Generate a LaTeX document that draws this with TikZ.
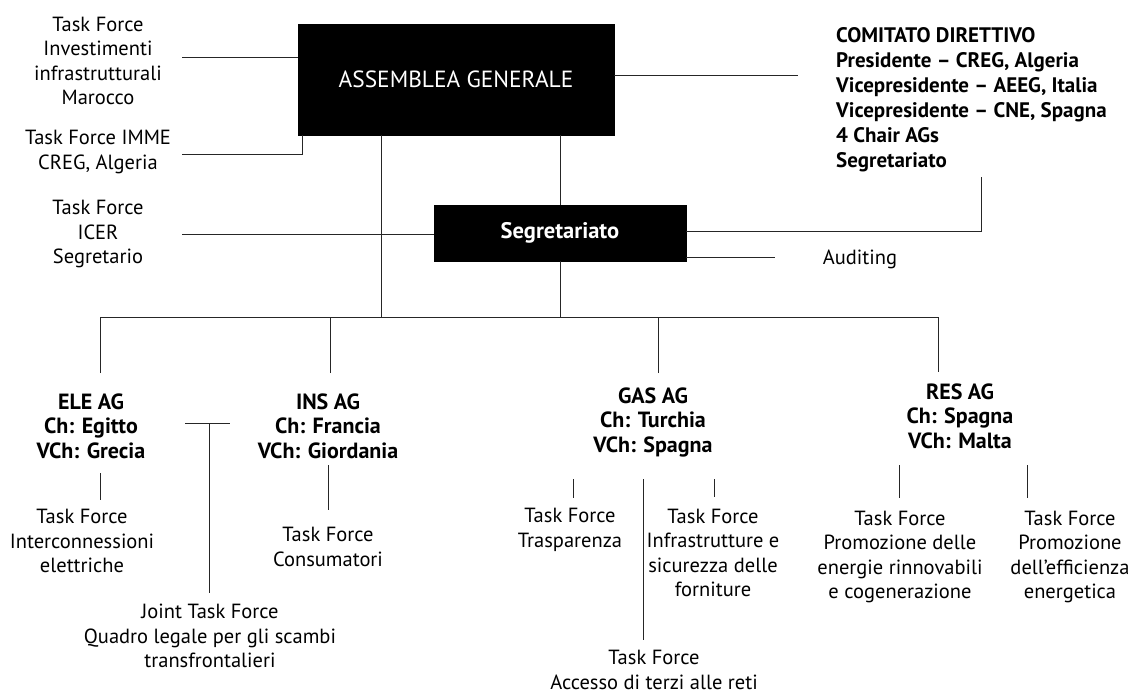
\documentclass[tikz,border=0pt]{standalone}
\usepackage{fontspec}
\setmainfont{PT Sans}
\begin{document}
\begin{tikzpicture}[x=1pt,y=-1pt,
  txt/.style={inner sep=0pt,align=center,font=\fontsize{20.5}{24.5}\selectfont},
  btxt/.style={inner sep=0pt,align=center,font=\fontsize{22}{24.5}\selectfont\bfseries},
  blackbox/.style={fill=black,draw=black,inner sep=0pt,text=white},
  link/.style={draw=black!85,line width=0.8pt}]
\useasboundingbox (0,0) rectangle (1134,695);
% boxes
\node[blackbox,minimum width=316pt,minimum height=111pt,font=\fontsize{23.4}{24}\selectfont] (ga) at (456,79.5) {ASSEMBLEA GENERALE};
\node[blackbox,minimum width=252pt,minimum height=56pt,font=\fontsize{22.5}{24}\selectfont\bfseries] (seg) at (560,233) {Segretariato};
% left task forces
\node[txt] (tfa) at (98,61) {Task Force\\Investimenti\\infrastrutturali\\Marocco};
\node[txt] (tfb) at (98,152) {Task Force IMME\\CREG, Algeria};
\node[txt] (tfc) at (98,234) {Task Force\\ICER\\Segretario};
% right
\node[inner sep=0pt,align=left,anchor=west,font=\fontsize{21}{25}\selectfont\bfseries] (com) at (836,100) {COMITATO DIRETTIVO\\Presidente – CREG, Algeria\\Vicepresidente – AEEG, Italia\\Vicepresidente – CNE, Spagna\\4 Chair AGs\\Segretariato};
\node[txt] (aud) at (860,259) {Auditing};
% AGs
\node[btxt] (ele) at (91,426) {ELE AG\\Ch: Egitto\\VCh: Grecia};
\node[btxt] (ins) at (328,426) {INS AG\\Ch: Francia\\VCh: Giordania};
\node[btxt] (gas) at (653,422) {GAS AG\\Ch: Turchia\\VCh: Spagna};
\node[btxt] (res) at (960,416) {RES AG\\Ch: Spagna\\VCh: Malta};
% sub task forces
\node[txt] (tfele) at (82,541) {Task Force\\Interconnessioni\\elettriche};
\node[txt] (tfins) at (328,547) {Task Force\\Consumatori};
\node[txt] (tftra) at (570,530) {Task Force\\Trasparenza};
\node[txt] (tfinf) at (713,553) {Task Force\\Infrastrutture e\\sicurezza delle\\forniture};
\node[txt] (tfacc) at (654,670) {Task Force\\Accesso di terzi alle reti};
\node[txt] (joint) at (210,636) {Joint Task Force\\Quadro legale per gli scambi\\transfrontalieri};
\node[txt] (tfres1) at (900,557) {Task Force\\Promozione delle\\energie rinnovabili\\e cogenerazione};
\node[txt] (tfres2) at (1070,557) {Task Force\\Promozione\\dell'efficienza\\energetica};
% coordinates for free ends
\coordinate (la) at (182,57);
\coordinate (lb) at (182,154);
\coordinate (lbc) at (302,154);
\coordinate (lc) at (182,234);
\coordinate (bus) at (381,317);
\coordinate (busL) at (100,317);
\coordinate (busR) at (938,317);
\coordinate (comc) at (981,231);
\coordinate (comt) at (981,177);
\coordinate (rgt) at (798,75);
\coordinate (audl) at (775,257);
\coordinate (eleT) at (100,373);
\coordinate (insT) at (330,373);
\coordinate (gasT) at (658,373);
\coordinate (resT) at (938,372);
\coordinate (jL) at (185,423);
\coordinate (jR) at (230,423);
\coordinate (jM) at (209,423);
\coordinate (jB) at (209,593);
% connectors
\draw[link] (la) -- (la -| ga.west);
\draw[link] (lb) -- (lbc) -- (lbc |- ga.south);
\draw[link] (lc) -- (lc -| seg.west);
\draw[link] (bus |- ga.south) -- (bus);
\draw[link] (ga.south -| seg.north) -- (seg.north);
\draw[link] (rgt -| ga.east) -- (rgt);
\draw[link] (comc -| seg.east) -- (comc) -- (comt);
\draw[link] (audl -| seg.east) -- (audl);
\draw[link] (seg.south) -- (seg.south |- bus);
\draw[link] (eleT) -- (busL) -- (busR) -- (resT);
\draw[link] (insT) -- (insT |- bus);
\draw[link] (gasT) -- (gasT |- bus);
\draw[link] (jL) -- (jR);
\draw[link] (jM) -- (jB);
\draw[link] (100,473) -- (100,500);
\draw[link] (328,465) -- (328,510);
\draw[link] (573,479) -- (573,498);
\draw[link] (643,479) -- (643,640);
\draw[link] (714,479) -- (714,497);
\draw[link] (899,465) -- (899,498);
\draw[link] (1027,465) -- (1027,498);
\end{tikzpicture}
\end{document}
